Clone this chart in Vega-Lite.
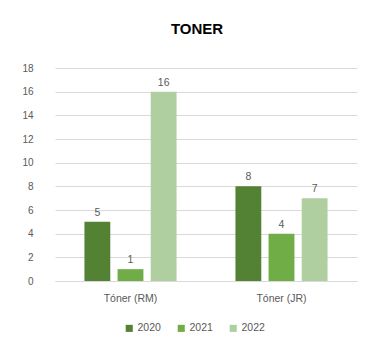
{
  "$schema": "https://vega.github.io/schema/vega-lite/v6.json",
  "autosize": "none",
  "width": 302,
  "height": 213,
  "padding": {"left": 55, "top": 68, "right": 14, "bottom": 73},
  "background": "white",
  "title": {"text": "TONER", "fontSize": 15, "font": "Liberation Sans", "fontWeight": "bold", "color": "#000000", "anchor": "middle", "offset": 26, "dx": -9},
  "data": {"values": [
    {"cat": "Tóner (RM)", "year": "2020", "value": 5},
    {"cat": "Tóner (RM)", "year": "2021", "value": 1},
    {"cat": "Tóner (RM)", "year": "2022", "value": 16},
    {"cat": "Tóner (JR)", "year": "2020", "value": 8},
    {"cat": "Tóner (JR)", "year": "2021", "value": 4},
    {"cat": "Tóner (JR)", "year": "2022", "value": 7}
  ]},
  "encoding": {
    "x": {"field": "cat", "type": "nominal", "sort": null,
      "scale": {"paddingInner": 0.39, "paddingOuter": 0.195},
      "axis": {"title": null, "labelAngle": 0, "ticks": false, "domain": true, "domainColor": "#d9d9d9", "labelFontSize": 10.5, "labelColor": "#595959", "labelFont": "Liberation Sans", "labelPadding": 12}},
    "xOffset": {"field": "year", "type": "nominal", "scale": {"paddingInner": 0.22, "paddingOuter": 0}},
    "y": {"field": "value", "type": "quantitative",
      "scale": {"domain": [0, 18], "nice": false},
      "axis": {"title": null, "values": [0,2,4,6,8,10,12,14,16,18], "ticks": false, "domain": false, "gridColor": "#d9d9d9", "labelFontSize": 10, "labelColor": "#595959", "labelFont": "Liberation Sans", "labelPadding": 22}}
  },
  "layer": [
    {"mark": {"type": "bar"},
      "encoding": {"color": {"field": "year", "type": "nominal",
        "scale": {"domain": ["2020", "2021", "2022"], "range": ["#548235", "#70AD47", "#B0CFA0"]},
        "legend": {"title": null, "orient": "none", "legendX": 69, "legendY": 255, "direction": "horizontal", "symbolType": "square", "symbolSize": 50, "symbolStrokeWidth": 0, "labelFontSize": 10.5, "labelColor": "#595959", "labelFont": "Liberation Sans", "columnPadding": 15, "labelOffset": 3}}}},
    {"mark": {"type": "text", "dy": -9, "fontSize": 10.5, "color": "#595959", "font": "Liberation Sans"},
      "encoding": {"text": {"field": "value", "type": "quantitative"}}}
  ],
  "config": {"view": {"stroke": null}}
}
